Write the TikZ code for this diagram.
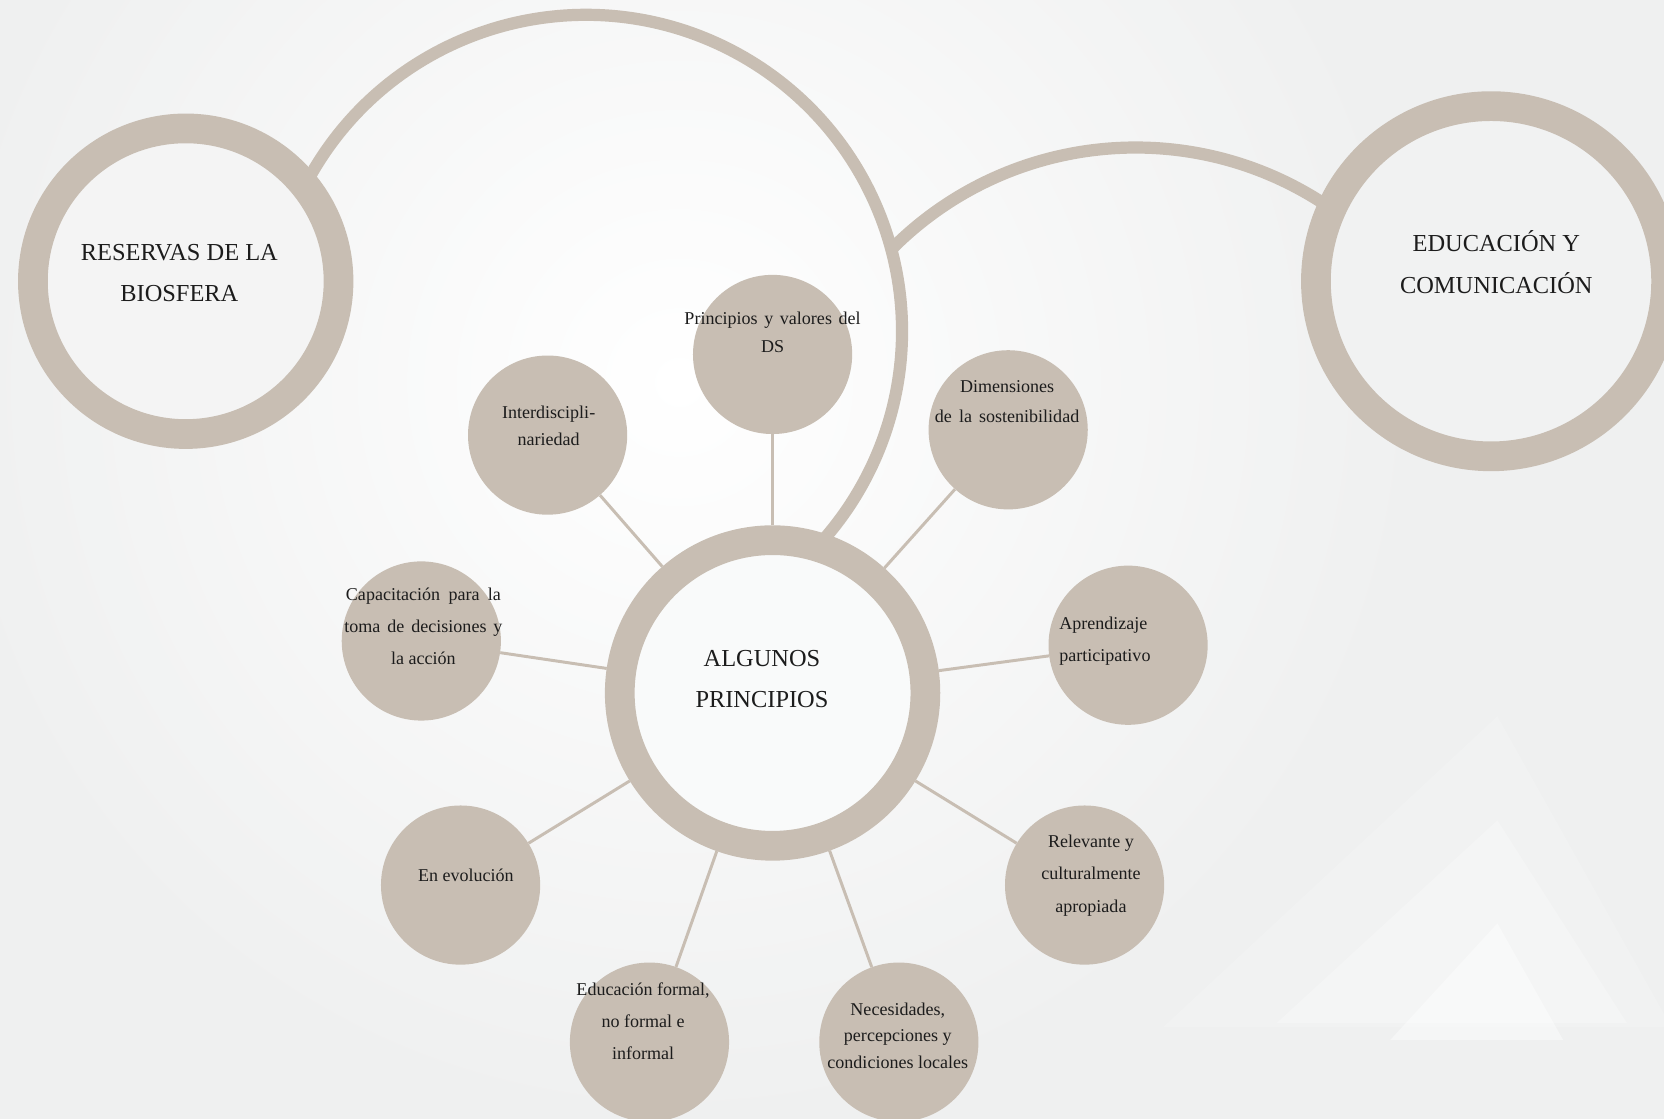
\documentclass[tikz,border=0pt]{standalone}
\usepackage{fontspec}
\setmainfont{Liberation Serif}
\usetikzlibrary{calc}
\definecolor{beige}{HTML}{C8BEB3}
\definecolor{bgc}{HTML}{EFF0F0}
\definecolor{resfill}{HTML}{F4F4F4}
\definecolor{edufill}{HTML}{F1F2F2}
\definecolor{cenfill}{HTML}{F9FAFA}
\definecolor{ink}{HTML}{1C1C1C}
\begin{document}
\begin{tikzpicture}[x=1pt,y=-1pt,
  ring/.style={circle, draw=beige, line width=28pt, inner sep=0pt},
  dot/.style={circle, fill=beige, minimum size=150pt, inner sep=0pt},
  link/.style={draw=beige, line width=2.8pt},
  band/.style={draw=beige, line width=11.5pt},
  bigtext/.style={font=\fontsize{23}{39}\selectfont, align=center, text=ink, inner sep=0pt},
  smalltext/.style={font=\fontsize{17}{30}\selectfont, align=center, text=ink, inner sep=0pt}
]
\useasboundingbox (0,0) rectangle (1568,1054.4);
\begin{scope}
\clip (0,0) rectangle (1568,1054.4);
\fill[bgc] (0,0) rectangle (1568,1054.4);
\shade[inner color=white, outer color=bgc] (640,360) circle (700);
% faint background triangles
\fill[white, opacity=0.15] (1411,675) -- (1575,968) -- (1096,968) -- cycle;
\fill[white, opacity=0.25] (1411,773) -- (1533,964) -- (1203,964) -- cycle;
\fill[white, opacity=0.4] (1411,870) -- (1473,980) -- (1310,980) -- cycle;

% decorative bands
\coordinate (bigc) at (552,312);
\coordinate (midc) at (1070,463);
\draw[band] ($(midc)+(-135.6:324)$) arc[start angle=-135.6, end angle=-55, radius=324];
\draw[band] ($(bigc)+(-151:298)$) arc[start angle=-151, end angle=42, radius=298];

% rings
\node[ring, fill=resfill, minimum size=288pt] (res) at (175,265) {};
\node[ring, fill=edufill, minimum size=330pt] (edu) at (1405,265) {};
\node[ring, fill=cenfill, minimum size=288pt] (cen) at (728,653) {};

% satellites
\node[dot] (p1) at (728,334) {};
\node[dot] (p2) at (516,410) {};
\node[dot] (p3) at (950,405) {};
\node[dot] (p4) at (1063,608) {};
\node[dot] (p5) at (1022,834) {};
\node[dot] (p6) at (847,982) {};
\node[dot] (p7) at (612,982) {};
\node[dot] (p8) at (434,834) {};
\node[dot] (p9) at (397,604) {};

\foreach \n in {p1,p2,p3,p4,p5,p6,p7,p8,p9} \draw[link] (cen) -- (\n);

% texts
\node[bigtext] (tres) at (169,257.5) {RESERVAS DE LA\\BIOSFERA};
\node[bigtext, font=\fontsize{23}{40}\selectfont] (tedu) at (1410,247) {EDUCACIÓN Y\\COMUNICACIÓN};
\node[bigtext, font=\fontsize{23}{38}\selectfont] (tcen) at (718,640) {ALGUNOS\\PRINCIPIOS};

\node[smalltext, font=\fontsize{17}{26}\selectfont] (t1) at (728,313) {\makebox[166pt][s]{Principios y valores del}\\DS};
\node[smalltext, font=\fontsize{17}{25}\selectfont] (t2) at (517,401.5) {Interdiscipli-\\nariedad};
\node[smalltext, font=\fontsize{17}{29}\selectfont] (t3) at (949,378.5) {Dimensiones\\\makebox[136pt][s]{de la sostenibilidad}};
\node[smalltext] (t9) at (399,590) {\makebox[146pt][s]{Capacitación para la}\\\makebox[149pt][s]{toma de decisiones y}\\la acción};
\node[smalltext, align=left, anchor=west] (t4) at (998,604) {Aprendizaje\\participativo};
\node[smalltext, font=\fontsize{17}{30.5}\selectfont] (t5) at (1028,825) {Relevante y\\culturalmente\\apropiada};
\node[smalltext] (t8) at (439,825) {En evolución};
\node[smalltext] (t7) at (606,962) {Educación formal,\\no formal e\\informal};
\node[smalltext, font=\fontsize{17}{25}\selectfont] (t6) at (846,976) {Necesidades,\\percepciones y\\condiciones locales};
\end{scope}
\end{tikzpicture}
\end{document}
